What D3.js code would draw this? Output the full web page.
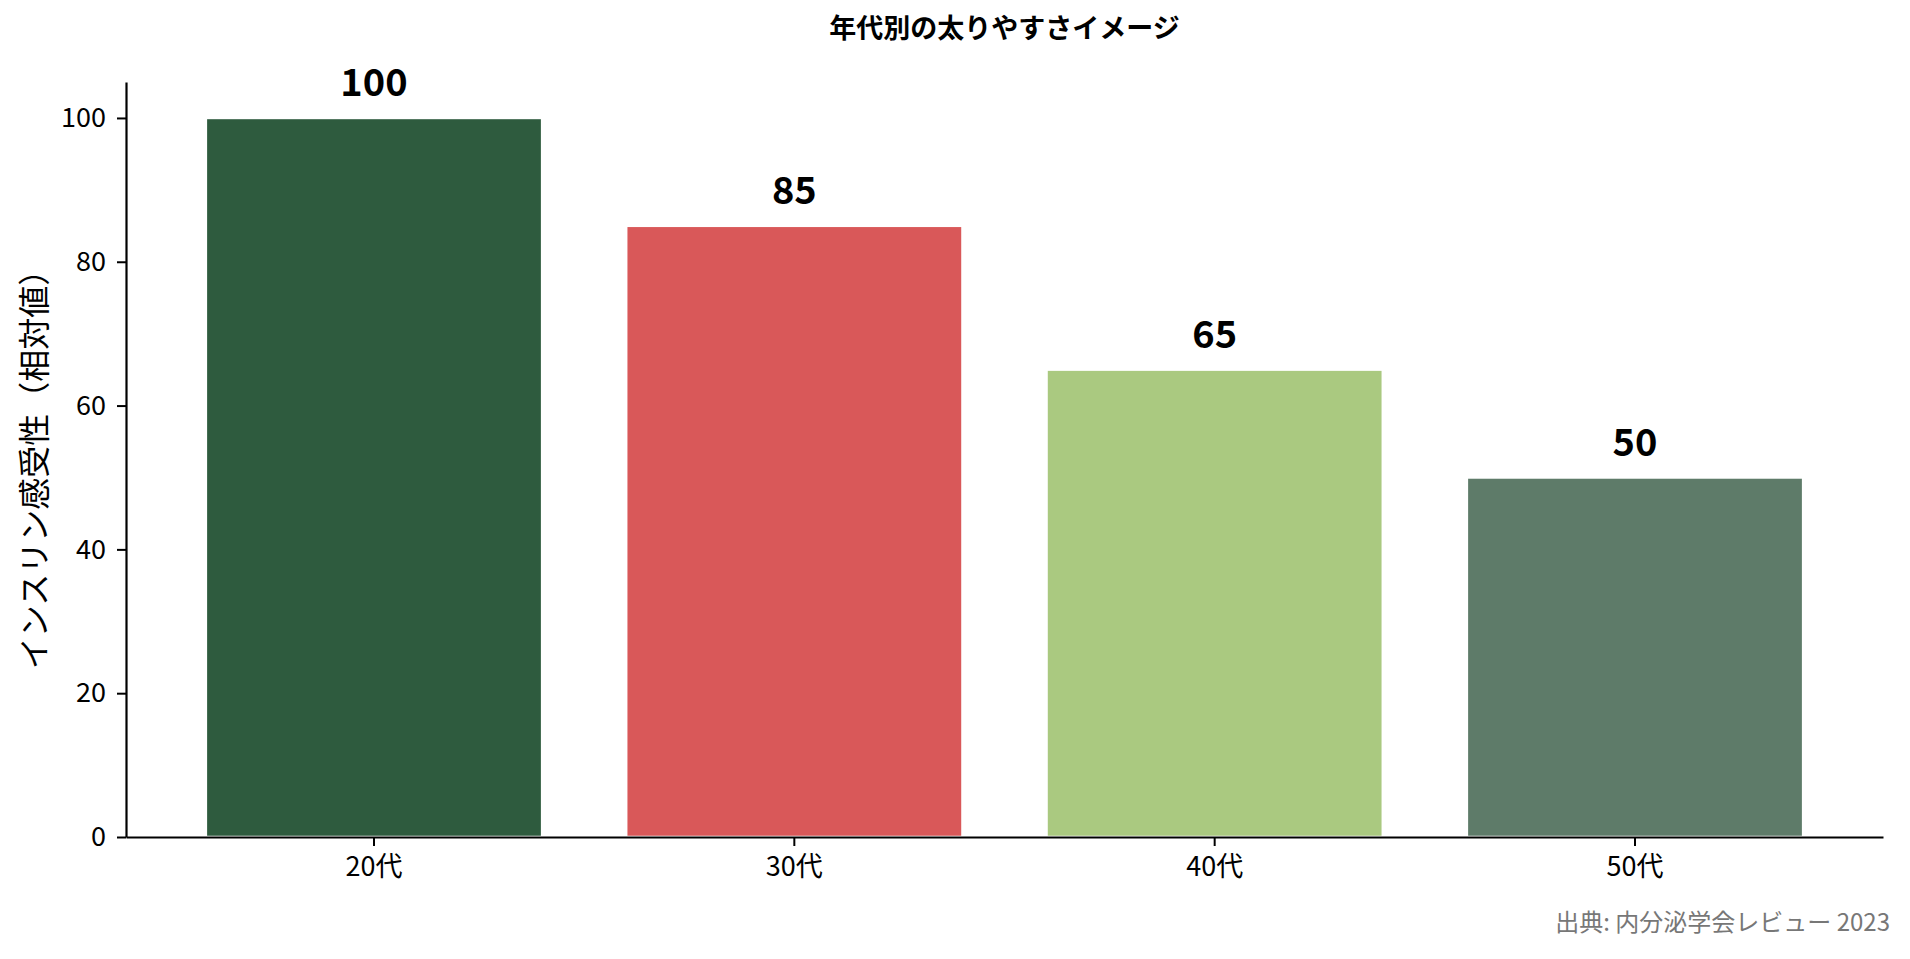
<!DOCTYPE html>
<html>
<head>
<meta charset="utf-8">
<script src="https://cdn.jsdelivr.net/npm/d3@7"></script>
<style>
  html, body { margin: 0; padding: 0; background: #fff; }
  svg { display: block; font-family: "Noto Sans CJK JP", "Noto Sans", sans-serif; }
</style>
</head>
<body>
<div id="chart"></div>
<script>
const ageGroups = ["20代", "30代", "40代", "50代"];
const sensitivity = [100, 85, 65, 50];
const barColors = ["#2e5b3e", "#d95859", "#aac980", "#5e7b69"];
const yTicks = [0, 20, 40, 60, 80, 100];
const titleText = "年代別の太りやすさイメージ";
const yLabelText = "インスリン感受性（相対値）";
const sourceText = "出典: 内分泌学会レビュー 2023";

function draw() {
  const width = 1910,
    height = 959,
    marginTop = 82,
    marginBottom = 122,
    marginLeft = 126,
    marginRight = 27;

  const svg = d3.select("#chart")
    .append("svg")
    .attr("width", width)
    .attr("height", height);

  /* scales */
  const x = d3.scaleBand()
    .domain(ageGroups)
    .range([marginLeft, width - marginRight])
    .paddingInner(0.2)
    .paddingOuter(0.19);
  const y = d3.scaleLinear()
    .domain([0, 105])
    .range([height - marginBottom, marginTop]);

  const data = ageGroups.map((g, i) => ({ group: g, value: sensitivity[i], color: barColors[i] }));

  /* bars */
  svg.append("g")
    .selectAll("rect")
    .data(data)
    .enter()
    .append("rect")
    .attr("x", d => x(d.group))
    .attr("y", d => y(d.value))
    .attr("width", x.bandwidth())
    .attr("height", d => y(0) - y(d.value))
    .attr("fill", d => d.color)
    .attr("stroke", "white")
    .attr("stroke-width", 2.5);

  /* value labels */
  svg.append("g")
    .selectAll("text")
    .data(data)
    .enter()
    .append("text")
    .attr("x", d => x(d.group) + x.bandwidth() / 2)
    .attr("y", d => y(d.value + 3))
    .attr("text-anchor", "middle")
    .style("font-size", "38px")
    .style("font-weight", "bold")
    .text(d => d.value);

  /* axes */
  const yAxis = d3.axisLeft(y)
    .tickValues(yTicks)
    .tickSize(9)
    .tickSizeOuter(0)
    .tickPadding(11);
  const yg = svg.append("g")
    .attr("transform", `translate(${marginLeft},0)`)
    .call(yAxis);

  const xAxis = d3.axisBottom(x)
    .tickSize(9)
    .tickSizeOuter(0)
    .tickPadding(11);
  const xg = svg.append("g")
    .attr("transform", `translate(0,${height - marginBottom})`)
    .call(xAxis);

  [yg, xg].forEach(g => {
    g.selectAll("path.domain").attr("stroke", "#000").attr("stroke-width", 2.2);
    g.selectAll(".tick line").attr("stroke", "#000").attr("stroke-width", 2);
    g.selectAll(".tick text")
      .attr("fill", "#000")
      .style("font-size", "27px")
      .style("font-family", "\"Noto Sans CJK JP\", sans-serif");
  });

  /* title */
  svg.append("text")
    .attr("x", (marginLeft + width - marginRight) / 2)
    .attr("y", 38)
    .attr("text-anchor", "middle")
    .style("font-size", "27px")
    .style("font-weight", "bold")
    .text(titleText);

  /* y label */
  svg.append("text")
    .attr("transform", `translate(32,${(marginTop + height - marginBottom) / 2 + 2}) rotate(-90)`)
    .attr("text-anchor", "middle")
    .attr("dominant-baseline", "central")
    .style("font-size", "32px")
    .text(yLabelText);

  /* source */
  svg.append("text")
    .attr("x", width - 20)
    .attr("y", 931)
    .attr("text-anchor", "end")
    .attr("fill", "#777")
    .style("font-size", "24px")
    .text(sourceText);
}

draw();
</script>
</body>
</html>
